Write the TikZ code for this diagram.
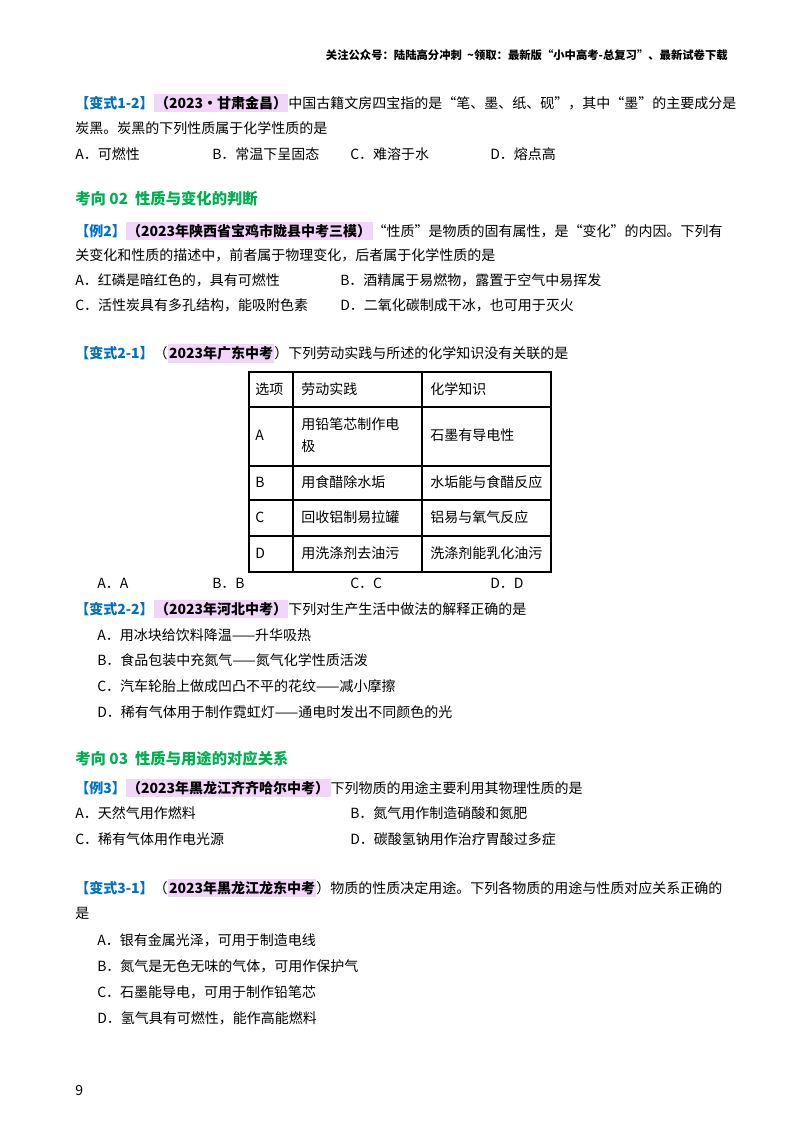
\documentclass[tikz,border=0pt]{standalone}
\usepackage{fontspec}
\setmainfont{Noto Sans CJK SC}
\definecolor{qblue}{RGB}{0,112,192}
\definecolor{qpink}{RGB}{242,214,250}
\definecolor{qgreen}{RGB}{0,176,80}
\newcommand{\tg}[1]{{\color{qblue}\bfseries #1}}
\newcommand{\hl}[1]{\tikz[baseline=(h.base)]\node[fill=qpink,inner xsep=1pt,inner ysep=2pt](h){\bfseries #1};}
\begin{document}
\begin{tikzpicture}[x=0.75pt,y=-0.75pt,
  tx/.style={anchor=west,inner sep=0pt,font=\fontsize{10.5}{13}\selectfont},
  hd/.style={anchor=west,inner sep=0pt,font=\fontsize{11.5}{14}\selectfont\bfseries,text=qgreen},
  cell/.style={anchor=west,inner sep=0pt,font=\fontsize{10.5}{13}\selectfont}]
\useasboundingbox[fill=white] (0,0) rectangle (800,1132);
\node[anchor=east,inner sep=0pt,font=\fontsize{8.5}{10}\selectfont\bfseries] (hdr) at (728,55) {关注公众号：陆陆高分冲刺\ \ \textasciitilde 领取：最新版“小中高考-总复习”、最新试卷下载};
\node[tx] (l1) at (75,103) {\tg{【变式1-2】}\hl{（2023·甘肃金昌）}中国古籍文房四宝指的是“笔、墨、纸、砚”，其中“墨”的主要成分是};
\node[tx] (l2) at (75,128) {炭黑。炭黑的下列性质属于化学性质的是};
\node[tx] (o1a) at (75,154) {A．可燃性};
\node[tx] (o1b) at (212,154) {B．常温下呈固态};
\node[tx] (o1c) at (350,154) {C．难溶于水};
\node[tx] (o1d) at (490,154) {D．熔点高};
\node[hd] (h2) at (75,199) {考向 02\ \ 性质与变化的判断};
\node[tx] (l3) at (75,231) {\tg{【例2】}\hl{（2023年陕西省宝鸡市陇县中考三模）}“性质”是物质的固有属性，是“变化”的内因。下列有};
\node[tx] (l4) at (75,255) {关变化和性质的描述中，前者属于物理变化，后者属于化学性质的是};
\node[tx] (o2a) at (75,280) {A．红磷是暗红色的，具有可燃性};
\node[tx] (o2b) at (340,280) {B．酒精属于易燃物，露置于空气中易挥发};
\node[tx] (o2c) at (75,305) {C．活性炭具有多孔结构，能吸附色素};
\node[tx] (o2d) at (340,305) {D．二氧化碳制成干冰，也可用于灭火};
\node[tx] (l5) at (75,353) {\tg{【变式2-1】}（\hl{2023年广东中考}）下列劳动实践与所述的化学知识没有关联的是};
% table
\draw[line width=0.8pt] (249,372) rectangle (551,572);
\foreach \yy in {407,466,500,536} \draw[line width=0.8pt] (249,\yy) -- (551,\yy);
\foreach \xx in {293,422} \draw[line width=0.8pt] (\xx,372) -- (\xx,572);
\node[cell] (t00) at (255,389) {选项};
\node[cell] (t01) at (301,389) {劳动实践};
\node[cell] (t02) at (430,389) {化学知识};
\node[cell] (t10) at (255,435) {A};
\node[cell,align=left] (t11) at (301,435) {用铅笔芯制作电\\[4pt]极};
\node[cell] (t12) at (430,435) {石墨有导电性};
\node[cell] (t20) at (255,482) {B};
\node[cell] (t21) at (301,482) {用食醋除水垢};
\node[cell] (t22) at (430,482) {水垢能与食醋反应};
\node[cell] (t30) at (255,517) {C};
\node[cell] (t31) at (301,517) {回收铝制易拉罐};
\node[cell] (t32) at (430,517) {铝易与氧气反应};
\node[cell] (t40) at (255,553) {D};
\node[cell] (t41) at (301,553) {用洗涤剂去油污};
\node[cell] (t42) at (430,553) {洗涤剂能乳化油污};
\node[tx] (o3a) at (97,583) {A．A};
\node[tx] (o3b) at (212,583) {B．B};
\node[tx] (o3c) at (350,583) {C．C};
\node[tx] (o3d) at (490,583) {D．D};
\node[tx] (l6) at (75,609) {\tg{【变式2-2】}\hl{（2023年河北中考）}下列对生产生活中做法的解释正确的是};
\node[tx] (o4a) at (97,635) {A．用冰块给饮料降温——升华吸热};
\node[tx] (o4b) at (97,660) {B．食品包装中充氮气——氮气化学性质活泼};
\node[tx] (o4c) at (97,686) {C．汽车轮胎上做成凹凸不平的花纹——减小摩擦};
\node[tx] (o4d) at (97,712) {D．稀有气体用于制作霓虹灯——通电时发出不同颜色的光};
\node[hd] (h3) at (75,759) {考向 03\ \ 性质与用途的对应关系};
\node[tx] (l7) at (75,788) {\tg{【例3】}\hl{（2023年黑龙江齐齐哈尔中考）}下列物质的用途主要利用其物理性质的是};
\node[tx] (o5a) at (75,813) {A．天然气用作燃料};
\node[tx] (o5b) at (350,813) {B．氮气用作制造硝酸和氮肥};
\node[tx] (o5c) at (75,839) {C．稀有气体用作电光源};
\node[tx] (o5d) at (350,839) {D．碳酸氢钠用作治疗胃酸过多症};
\node[tx] (l8) at (75,888) {\tg{【变式3-1】}（\hl{2023年黑龙江龙东中考}）物质的性质决定用途。下列各物质的用途与性质对应关系正确的};
\node[tx] (l9) at (75,913) {是};
\node[tx] (o6a) at (97,940) {A．银有金属光泽，可用于制造电线};
\node[tx] (o6b) at (97,966) {B．氮气是无色无味的气体，可用作保护气};
\node[tx] (o6c) at (97,992) {C．石墨能导电，可用于制作铅笔芯};
\node[tx] (o6d) at (97,1018) {D．氢气具有可燃性，能作高能燃料};
\node[tx] (pg) at (75,1090) {9};
\end{tikzpicture}
\end{document}
